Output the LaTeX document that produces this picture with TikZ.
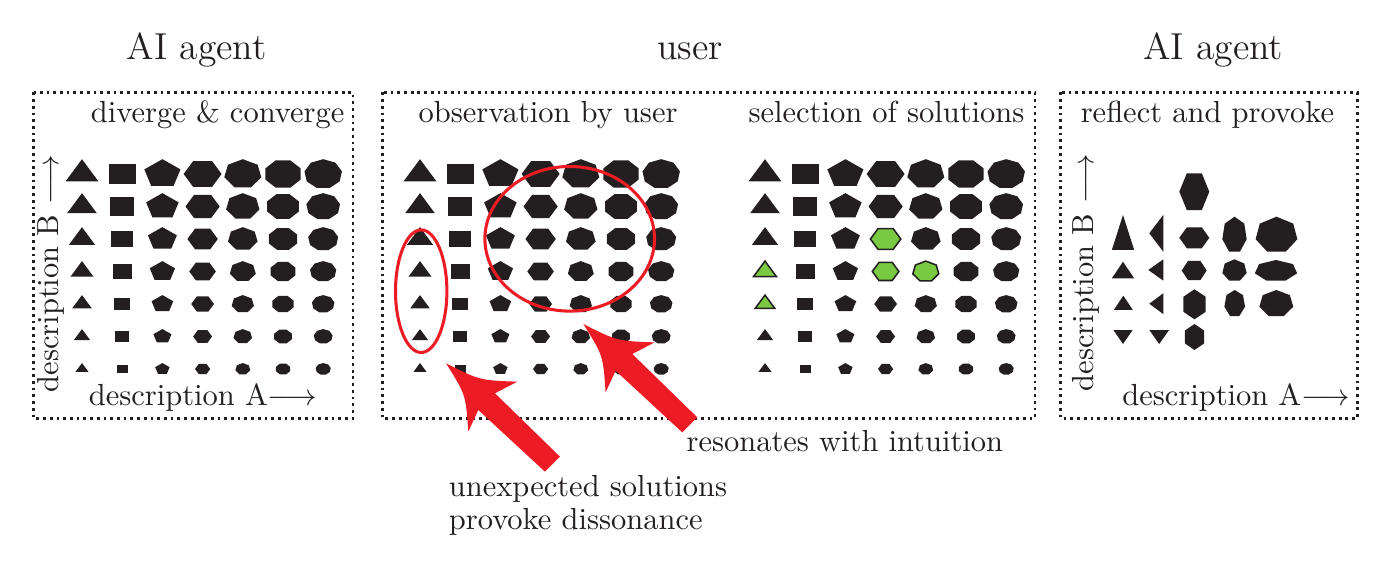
\documentclass[tikz,border=0pt]{standalone}
\usetikzlibrary{positioning}

\definecolor{ink}{RGB}{35,31,32}
\definecolor{alarm}{RGB}{237,28,36}
\definecolor{pick}{RGB}{122,201,67}

% polygon: [style]{sides}{centre}{x radius}{y radius}{rotation}
\newcommand{\ngonshape}[6][]{%
  \fill[ink,#1,shift={#3},xscale=#4,yscale=#5,rotate=#6]
    (90+180/#2:1) \foreach \k in {1,...,#2}{ -- (90+180/#2+\k*360/#2:1)} -- cycle;}

% 7x7 grid, triangle ... nonagon, shrinking downwards
\newcommand{\shapegrid}[1]{%
  \foreach \r in {1,...,7}{
    \foreach \c in {1,...,7}{
      \pgfmathtruncatemacro\sides{\c+2}
      \pgfmathsetmacro\rad{19-1.9*(\r-1)}
      \pgfmathsetmacro\radv{0.78*\rad}
      \ngonshape{\sides}{(#1+40.2*\c-40.2,141.5+32.5*\r)}{\rad}{\radv}{0}
    }}}

% red block arrow, tip at #1
\newcommand{\blockarrow}[1]{%
  \fill[alarm,shift={#1}] (0,0) .. controls (33.6,17) .. (71.3,18.4)
    -- (49,30) -- (114,93.4) -- (99,108.4) -- (32.3,46.7) -- (22.3,68.4)
    .. controls (19.8,31.4) .. (0,0) -- cycle;}

\tikzset{
  title/.style={font=\fontsize{12.3}{15}\selectfont, text=ink, inner sep=0},
  lbl/.style={font=\fontsize{10}{12}\selectfont, text=ink, inner sep=0},
  panel/.style={draw=ink, line width=0.9pt, dash pattern=on 0.9pt off 1.3pt},
  ring/.style={draw=alarm, line width=1pt},
  solution/.style={fill=pick, draw=ink, line width=0.5pt}
}

\begin{document}
\begin{tikzpicture}[x=0.3279pt,y=-0.3279pt]
\useasboundingbox (0,0) rectangle (1400,585);

%%%%%%%%%%%%%%%%%%%
% Titles

\node[title, anchor=base] (agentL) at (196.7,60) {AI agent};
\node[title, anchor=base] (userT) at (690,60) {user};
\node[title, anchor=base] (agentR) at (1213.3,60) {AI agent};

%%%%%%%%%%%%%%%%%%%
% Panels

\draw[panel] (33.5,92.5) rectangle (353,418.3);
\draw[panel] (382.5,92.5) rectangle (1035,418.3);
\draw[panel] (1060.7,92.5) rectangle (1357.5,418.3);

\node[lbl, anchor=base east] (diverge) at (345,123) {diverge \& converge};
\node[lbl, anchor=base west] (observe) at (418,123) {observation by user};
\node[lbl, anchor=base west] (select) at (748,123) {selection of solutions};
\node[lbl, anchor=base] (reflect) at (1207.5,123) {reflect and provoke};

%%%%%%%%%%%%%%%%%%%
% Solution grids

\shapegrid{82}
\shapegrid{420}
\shapegrid{765}

% selected solutions
\ngonshape[solution]{6}{(885.6,239)}{15.2}{11.9}{0}
\ngonshape[solution]{3}{(765,271.5)}{13.3}{10.4}{0}
\ngonshape[solution]{6}{(885.6,271.5)}{13.3}{10.4}{0}
\ngonshape[solution]{7}{(925.8,271.5)}{13.3}{10.4}{0}
\ngonshape[solution]{3}{(765,304)}{11.4}{8.9}{0}

%%%%%%%%%%%%%%%%%%%
% Reflected solutions

% row 1
\ngonshape{6}{(1194.3,191.7)}{15}{21.2}{0}
% row 2
\ngonshape{3}{(1123,238.3)}{12.9}{23.3}{0}
\ngonshape{3}{(1158.6,233.3)}{9.3}{21.2}{90}
\ngonshape{6}{(1194.3,237.8)}{15}{12.1}{0}
\ngonshape{7}{(1234.5,235.1)}{12.5}{18.4}{0}
\ngonshape{7}{(1276.5,235.1)}{21.4}{18.4}{0}
% row 3
\ngonshape{3}{(1123,272.8)}{12.9}{11.1}{0}
\ngonshape{3}{(1158.3,270)}{10}{12.3}{90}
\ngonshape{6}{(1194.2,270.5)}{12.5}{11}{0}
\ngonshape{7}{(1234.5,270.5)}{12.5}{11.2}{0}
\ngonshape{7}{(1276,270.9)}{21.7}{10.9}{0}
% row 4
\ngonshape{3}{(1123.3,305.2)}{11}{9.5}{0}
\ngonshape{3}{(1158.6,303.7)}{9.3}{12}{90}
\ngonshape{6}{(1194.5,304.3)}{12.9}{15}{90}
\ngonshape{7}{(1234.7,303.7)}{10.6}{13.7}{0}
\ngonshape{7}{(1276.3,303.7)}{17.4}{13.7}{0}
% row 5
\ngonshape{3}{(1123,334.7)}{11.1}{9.3}{180}
\ngonshape{3}{(1159.2,334.7)}{11.4}{9.3}{180}
\ngonshape{6}{(1194.5,337)}{11}{13}{90}

%%%%%%%%%%%%%%%%%%%
% Axes

\node[lbl, anchor=base west] (descAL) at (88.3,406) {description A$\longrightarrow$};
\node[lbl, anchor=base west, rotate=90] (descBL) at (58.3,393) {description B $\longrightarrow$};
\node[lbl, anchor=base west] (descAR) at (1121.7,406) {description A$\longrightarrow$};
\node[lbl, anchor=base west, rotate=90] (descBR) at (1093.3,392) {description B $\longrightarrow$};

%%%%%%%%%%%%%%%%%%%
% Observations

\draw[ring] (421.2,291.2) ellipse [x radius=25.7, y radius=61.3];
\draw[ring] (569.7,238.8) ellipse [x radius=84.8, y radius=72.3];

\coordinate (tipDis) at (446,363.3);
\coordinate (tipRes) at (583.3,324);
\blockarrow{(tipDis)}
\blockarrow{(tipRes)}

\node[lbl, anchor=base west] (resonate) at (686,451.7) {resonates with intuition};
\node[lbl, anchor=base west, align=left, font=\fontsize{10}{10.9}\selectfont] (dissonance)
    at (448.3,530) {unexpected solutions\\provoke dissonance};

\end{tikzpicture}
\end{document}
